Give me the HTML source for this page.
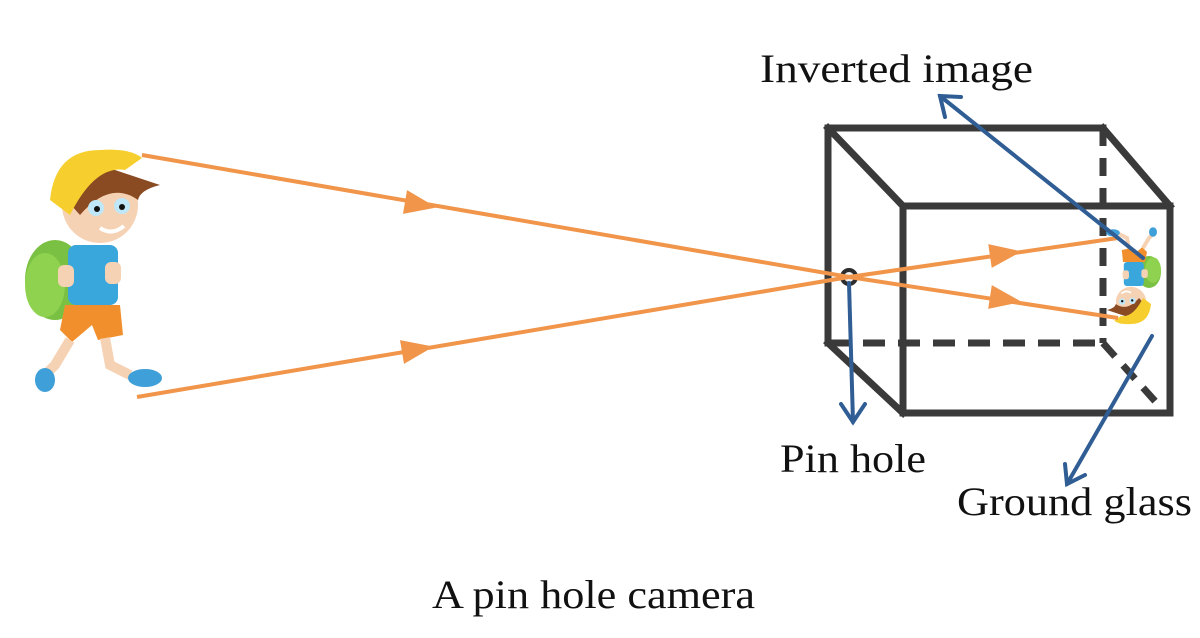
<!DOCTYPE html>
<html><head><meta charset="utf-8"><style>
html,body{margin:0;padding:0;background:#fff;}
svg{display:block;}
text{font-family:"Liberation Serif",serif;fill:#111;}
</style></head><body>
<svg width="1200" height="638" viewBox="0 0 1200 638" xmlns="http://www.w3.org/2000/svg">
<defs>
<g id="boy">
<ellipse cx="55" cy="280" rx="30" ry="40" fill="#7ac143"/>
<ellipse cx="45" cy="285" rx="20" ry="32" fill="#8fd24f"/>
<rect x="68" y="245" width="50" height="60" rx="8" fill="#3aa7dc"/>
<path d="M65,305 L120,305 L123,335 L98,340 L92,325 L72,342 L60,330 Z" fill="#f18f2c"/>
<path d="M70,340 L55,365 L45,375" stroke="#f6d2b4" stroke-width="10" fill="none"/>
<path d="M105,338 L110,365 L130,375" stroke="#f6d2b4" stroke-width="10" fill="none"/>
<ellipse cx="45" cy="380" rx="10" ry="12" fill="#3f9fd8"/>
<ellipse cx="145" cy="378" rx="17" ry="9" fill="#3f9fd8"/>
<circle cx="100" cy="205" r="38" fill="#f6d2b4"/>
<path d="M62,195 Q70,165 115,170 L160,185 Q140,190 138,200 Q110,180 80,215 Z" fill="#8a4a22"/>
<path d="M50,200 Q55,150 100,150 Q130,148 142,158 L125,170 Q95,165 70,215 Z" fill="#f6cf2e"/>
<circle cx="96" cy="208" r="8" fill="#bfe7f7"/><circle cx="122" cy="206" r="8" fill="#bfe7f7"/>
<circle cx="97" cy="209" r="3" fill="#111"/><circle cx="122" cy="207" r="3" fill="#111"/>
<path d="M100,228 Q112,236 124,226" stroke="#fff" stroke-width="4" fill="none"/>
<rect x="58" y="265" width="16" height="22" rx="6" fill="#f6d2b4"/>
<rect x="105" y="262" width="16" height="22" rx="6" fill="#f6d2b4"/>
</g>
</defs>
<!-- cube -->
<g stroke="#3a3a3a" stroke-width="7" fill="none" stroke-linecap="square">
<path d="M828,343 L828,128 L1103,128"/>
<line x1="828" y1="128" x2="903" y2="206"/>
<line x1="1103" y1="128" x2="1170" y2="206"/>
<line x1="828" y1="343" x2="903" y2="413"/>
<rect x="903" y="206" width="267" height="207"/>
<line x1="1103" y1="128" x2="1103" y2="343" stroke-dasharray="18,12" stroke-linecap="butt"/>
<line x1="828" y1="343" x2="1103" y2="343" stroke-dasharray="22,13" stroke-linecap="butt"/>
<line x1="1103" y1="343" x2="1163" y2="410" stroke-dasharray="18,12" stroke-linecap="butt"/>
</g>
<!-- inverted image boy -->
<use href="#boy" transform="translate(1133,276) rotate(180) scale(0.4) translate(-95,-270)"/>
<!-- boy -->
<use href="#boy"/>
<!-- pinhole -->
<circle cx="849" cy="277" r="7" fill="#f1f1f1" stroke="#2d2d2d" stroke-width="4"/>
<!-- orange rays -->
<g stroke="#f0954a" stroke-width="4" fill="none">
<line x1="142" y1="155" x2="849" y2="277"/>
<line x1="849" y1="277" x2="1118" y2="318"/>
<line x1="137" y1="397" x2="849" y2="277"/>
<line x1="849" y1="277" x2="1118" y2="238"/>
</g>
<g fill="#f0954a">
<polygon points="0,-12 32,0 0,12" transform="translate(405,202) rotate(9.8)"/>
<polygon points="0,-12 32,0 0,12" transform="translate(402,352) rotate(-9.6)"/>
<polygon points="0,-12 32,0 0,12" transform="translate(990,256) rotate(-8.2)"/>
<polygon points="0,-12 32,0 0,12" transform="translate(990,297) rotate(8.7)"/>
</g>
<!-- blue arrows -->
<g stroke="#2f5d94" stroke-width="4" fill="none" stroke-linecap="round">
<line x1="1143" y1="258" x2="940" y2="96"/>
<polyline points="945,117 940,96 961,97"/>
<line x1="849" y1="283" x2="853" y2="422"/>
<polyline points="841,404 853,422 865,404"/>
<line x1="1152" y1="336" x2="1067" y2="484"/>
<polyline points="1065,464 1067,484 1085,475"/>
</g>
<!-- labels -->
<text x="760" y="82" font-size="40" textLength="273" lengthAdjust="spacingAndGlyphs">Inverted image</text>
<text x="780" y="472" font-size="40" textLength="146" lengthAdjust="spacingAndGlyphs">Pin hole</text>
<text x="957" y="515" font-size="40" textLength="235" lengthAdjust="spacingAndGlyphs">Ground glass</text>
<text x="432" y="608" font-size="40" textLength="323" lengthAdjust="spacingAndGlyphs">A pin hole camera</text>
</svg>
</body></html>
